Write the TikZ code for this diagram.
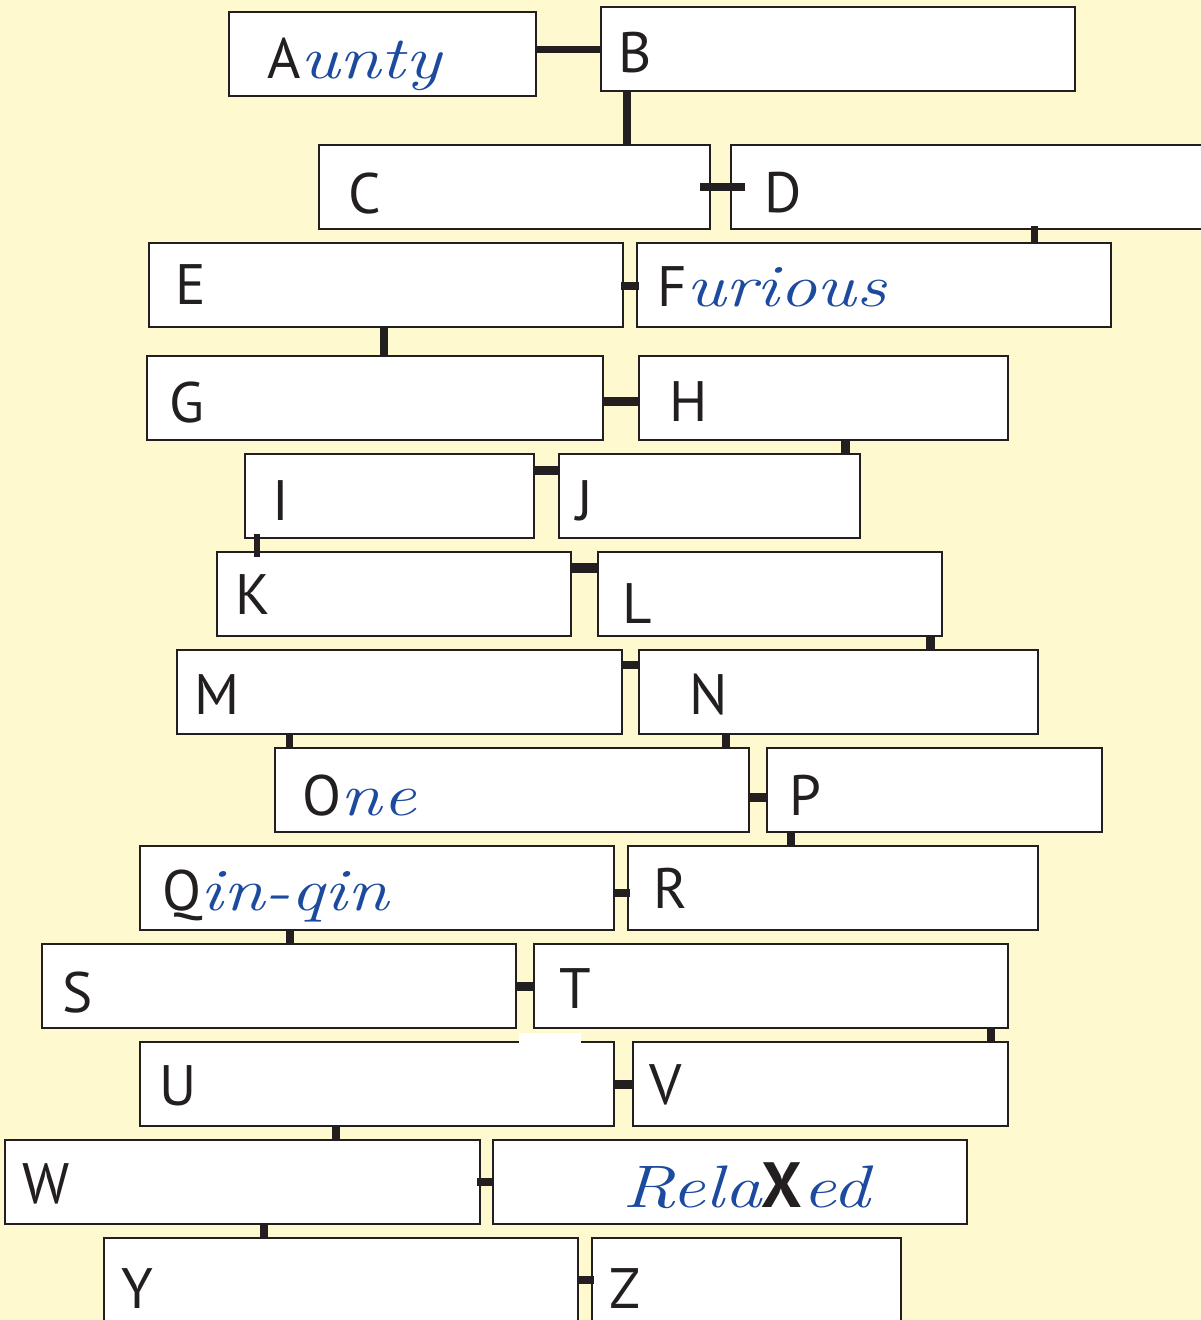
\documentclass[tikz,border=0pt]{standalone}
\usepackage{fontspec}
\usepackage{graphicx}
\newfontfamily\sansf{PT Sans}
\definecolor{ink}{HTML}{231F20}
\definecolor{bgc}{HTML}{FFF9D0}
\definecolor{hand}{HTML}{1C4A9E}
\newcommand{\hw}[1]{{\color{hand}\rmfamily\fontsize{60}{60}\selectfont\itshape\scalebox{1.25}[1]{#1}}}
\tikzset{
  box/.style={draw=ink, fill=white, line width=2.5pt, inner sep=0pt, outer sep=0pt,
              anchor=north west, minimum height=84pt},
  conn/.style={draw=ink, line width=8pt, line cap=butt},
  lbl/.style={anchor=base west, inner sep=0pt, outer sep=0pt, text=ink,
              font=\sansf\fontsize{57}{57}\selectfont}
}
\begin{document}
\begin{tikzpicture}[x=1pt,y=-1pt]
\useasboundingbox (0,0) rectangle (1201,1320);
\clip (0,0) rectangle (1201,1320);
\fill[bgc] (0,0) rectangle (1201,1320);
% boxes
\node[box, minimum width=307pt] (A) at (229,12) {};
\node[box, minimum width=474pt] (B) at (601,7) {};
\node[box, minimum width=391pt] (C) at (319,145) {};
\node[box, minimum width=484pt] (D) at (731,145) {};
\node[box, minimum width=474pt] (E) at (149,243) {};
\node[box, minimum width=474pt] (F) at (637,243) {};
\node[box, minimum width=456pt] (G) at (147,356) {};
\node[box, minimum width=369pt] (H) at (639,356) {};
\node[box, minimum width=289pt] (I) at (245,454) {};
\node[box, minimum width=301pt] (J) at (559,454) {};
\node[box, minimum width=354pt] (K) at (217,552) {};
\node[box, minimum width=344pt] (L) at (598,552) {};
\node[box, minimum width=445pt] (M) at (177,650) {};
\node[box, minimum width=399pt] (N) at (639,650) {};
\node[box, minimum width=474pt] (O) at (275,748) {};
\node[box, minimum width=335pt] (P) at (767,748) {};
\node[box, minimum width=474pt] (Q) at (140,846) {};
\node[box, minimum width=410pt] (R) at (628,846) {};
\node[box, minimum width=474pt] (S) at (42,944) {};
\node[box, minimum width=474pt] (T) at (534,944) {};
\node[box, minimum width=474pt] (U) at (140,1042) {};
\node[box, minimum width=375pt] (V) at (633,1042) {};
\node[box, minimum width=475pt] (W) at (5,1140) {};
\node[box, minimum width=474pt] (X) at (493,1140) {};
\node[box, minimum width=474pt, minimum height=100pt] (Y) at (104,1238) {};
\node[box, minimum width=309pt, minimum height=100pt] (Z) at (592,1238) {};
% white patch over U top edge
\fill[white] (519,1033) rectangle (581,1044);
% connectors
\draw[conn, line width=7pt] (A.east |- 0,49) -- (B.west |- 0,49);
\draw[conn] (B.south -| 627,0) -- (C.north -| 627,0);
\draw[conn] ([xshift=-10pt]C.east |- 0,187) -- ([xshift=14pt]D.west |- 0,187);
\draw[conn, line width=7pt] ([yshift=3pt]D.south -| 1034,0) -- (F.north -| 1034,0);
\draw[conn] ([xshift=-2pt]E.east |- 0,286) -- ([xshift=2pt]F.west |- 0,286);
\draw[conn] (E.south -| 384,0) -- (G.north -| 384,0);
\draw[conn, line width=9pt] (G.east |- 0,401) -- (H.west |- 0,401);
\draw[conn, line width=9pt] (H.south -| 845,0) -- (J.north -| 845,0);
\draw[conn, line width=9pt] (I.east |- 0,470) -- (J.west |- 0,470);
\draw[conn, line width=6pt] ([yshift=4pt]I.south -| 257,0) -- ([yshift=-5pt]K.north -| 257,0);
\draw[conn, line width=10pt] (K.east |- 0,568) -- (L.west |- 0,568);
\draw[conn, line width=9pt] (L.south -| 930,0) -- (N.north -| 930,0);
\draw[conn] (M.east |- 0,665) -- (N.west |- 0,665);
\draw[conn, line width=7pt] (M.south -| 289,0) -- (O.north -| 289,0);
\draw[conn] (N.south -| 726,0) -- (O.north -| 726,0);
\draw[conn, line width=9pt] (O.east |- 0,797) -- (P.west |- 0,797);
\draw[conn] (P.south -| 791,0) -- (R.north -| 791,0);
\draw[conn] (Q.east |- 0,893) -- ([xshift=2pt]R.west |- 0,893);
\draw[conn] (Q.south -| 290,0) -- (S.north -| 290,0);
\draw[conn, line width=9pt] (S.east |- 0,986) -- (T.west |- 0,986);
\draw[conn] (T.south -| 991,0) -- (V.north -| 991,0);
\draw[conn, line width=9pt] (U.east |- 0,1084) -- (V.west |- 0,1084);
\draw[conn] (U.south -| 336,0) -- (W.north -| 336,0);
\draw[conn] ([xshift=-3pt]W.east |- 0,1182) -- (X.west |- 0,1182);
\draw[conn] (W.south -| 264,0) -- (Y.north -| 264,0);
\draw[conn] (Y.east |- 0,1280) -- ([xshift=2pt]Z.west |- 0,1280);
% labels
\node[lbl] (tA) at (267,78) {A\hw{unty}};
\node[lbl] (tB) at (618,72) {B};
\node[lbl] (tC) at (348,213) {C};
\node[lbl] (tD) at (764,212) {D};
\node[lbl] (tE) at (175,304) {E};
\node[lbl] (tF) at (657,306) {F\hw{urious}};
\node[lbl] (tG) at (169,422) {G};
\node[lbl] (tH) at (669,421) {H};
\node[lbl] (tI) at (272,520) {I};
\node[lbl] (tJ) at (576,520) {J};
\node[lbl] (tK) at (235,614) {K};
\node[lbl] (tL) at (622,623) {L};
\node[lbl] (tM) at (194,714) {M};
\node[lbl] (tN) at (689,714) {N};
\node[lbl] (tO) at (302,815) {O\hw{ne}};
\node[lbl] (tP) at (789,815) {P};
\node[lbl] (tQ) at (162,910) {Q\hw{in-qin}};
\node[lbl] (tR) at (653,908) {R};
\node[lbl] (tS) at (62,1012) {S};
\node[lbl] (tT) at (559,1008) {T};
\node[lbl] (tU) at (159,1105) {U};
\node[lbl] (tV) at (649,1104) {V};
\node[lbl] (tW) at (22,1203) {W};
\node[lbl] (tX) at (622,1207) {\hw{Rela}{\fontsize{64}{64}\selectfont\bfseries X}\hw{ed}};
\node[lbl] (tY) at (121,1308) {Y};
\node[lbl] (tZ) at (609,1308) {Z};
\end{tikzpicture}
\end{document}
